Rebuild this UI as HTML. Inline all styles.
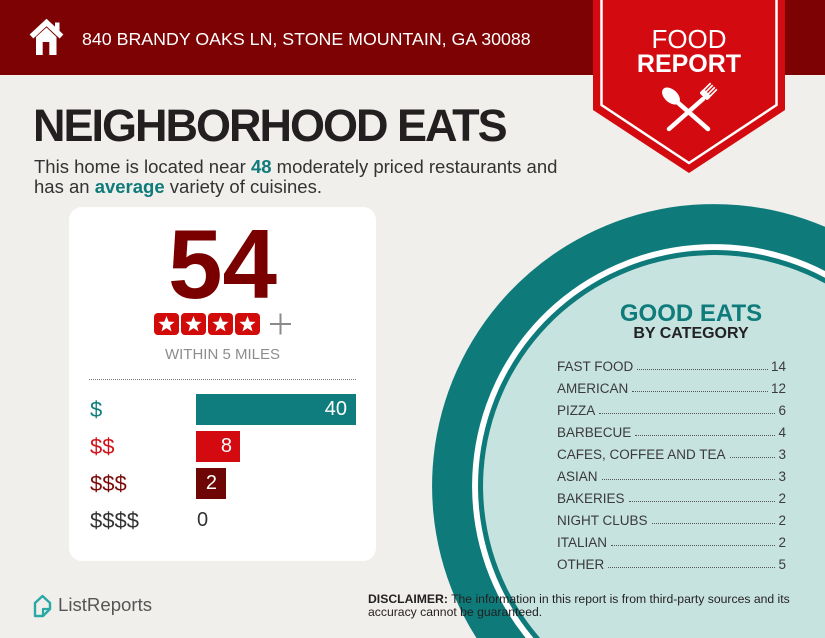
<!DOCTYPE html>
<html>
<head>
<meta charset="utf-8">
<style>
  html,body{margin:0;padding:0;width:825px;height:638px;overflow:hidden;}
  body{position:relative;background:#f1efec;font-family:"Liberation Sans",Arial,sans-serif;}
  .abs{position:absolute;}
  .header{left:0;top:0;width:825px;height:75px;background:#7c0203;}
  .addr{left:82px;top:31px;font-size:17.8px;line-height:1;color:#fff;white-space:nowrap;}
  .food{left:589px;width:200px;text-align:center;color:#fff;line-height:1;white-space:nowrap;}
  .title{left:33px;top:103px;font-size:45px;line-height:1;font-weight:bold;color:#231f20;letter-spacing:-2px;white-space:nowrap;}
  .sub{left:34px;top:157px;font-size:18.5px;line-height:19.5px;color:#333;white-space:nowrap;}
  .sub b{color:#0f7b7b;}
  .card{left:69px;top:207px;width:307px;height:354px;background:#fff;border-radius:13px;}
  .big{left:69px;width:307px;top:215px;text-align:center;font-size:98px;line-height:1;font-weight:bold;color:#7a0000;}
  .within{left:69px;width:307px;top:347px;text-align:center;font-size:15px;line-height:1;color:#8d8d8d;}
  .sep{left:89px;top:379px;width:267px;height:0;border-top:1px dotted #7a7a7a;}
  .lab{left:90px;font-size:22px;line-height:31px;height:31px;}
  .bar{left:196px;height:31px;line-height:31px;font-size:20px;color:#fff;text-align:right;box-sizing:border-box;}
  .goods{left:591px;width:200px;text-align:center;line-height:1;font-weight:bold;white-space:nowrap;}
  .list{left:557px;top:356px;width:229px;font-size:13.5px;color:#3a3a3a;}
  .row{display:flex;align-items:baseline;height:22px;line-height:22px;white-space:nowrap;}
  .row .f{flex:1;height:0;border-bottom:1px dotted #555;margin:0 3px 0 4px;position:relative;top:-1px;}
  .disc{left:368px;top:593px;font-size:12.2px;line-height:13px;color:#231f20;white-space:nowrap;}
  .logo{left:58px;top:596px;font-size:18.6px;line-height:1;color:#555;white-space:nowrap;}
</style>
</head>
<body>

<svg class="abs" style="left:0;top:0" width="825" height="638" viewBox="0 0 825 638">
  <path d="M825,226.8 A282,282 0 0 0 476.5,638 L825,638 Z" fill="#0e7a7a"/>
  <path d="M825,271 A242,242 0 0 0 525.7,638 L825,638 Z" fill="#ffffff"/>
  <path d="M825,277.7 A236,236 0 0 0 533.5,638 L825,638 Z" fill="#0e7a7a"/>
  <path d="M825,283.4 A231,231 0 0 0 540.1,638 L825,638 Z" fill="#c7e3e0"/>
</svg>

<div class="abs header"></div>

<svg class="abs" style="left:0;top:0" width="90" height="75" viewBox="0 0 90 75">
  <rect x="55" y="22.5" width="4.5" height="9" fill="#fff"/>
  <polyline points="31.5,36.5 46.5,22.5 61.5,36.5" fill="none" stroke="#fff" stroke-width="5.5" stroke-linejoin="miter"/>
  <polygon points="36,37 46.5,27.5 56.5,37 56.5,55 49.3,55 49.3,42 42.7,42 42.7,55 36,55" fill="#fff"/>
</svg>
<div class="abs addr">840 BRANDY OAKS LN, STONE MOUNTAIN, GA 30088</div>

<svg class="abs" style="left:0;top:0" width="825" height="200" viewBox="0 0 825 200">
  <polygon points="593,0 785,0 785,110 689,173 593,110" fill="#d30a0f"/>
  <polyline points="601.5,0 601.5,105 689,163 776.5,105 776.5,0" fill="none" stroke="#fff" stroke-width="2.5"/>
  <ellipse cx="671" cy="96" rx="6.5" ry="10.5" fill="#fff" transform="rotate(-48 671 96)"/>
  <line x1="676" y1="101" x2="708" y2="129" stroke="#fff" stroke-width="4.5" stroke-linecap="round"/>
  <line x1="703" y1="99" x2="669" y2="129" stroke="#fff" stroke-width="4.5" stroke-linecap="round"/>
  <g transform="translate(706 94) rotate(45)">
    <rect x="-5.5" y="-2" width="11" height="6" rx="2" fill="#fff"/>
    <line x1="-4.4" y1="-11" x2="-4.4" y2="0" stroke="#fff" stroke-width="1.7"/>
    <line x1="-1.5" y1="-11" x2="-1.5" y2="0" stroke="#fff" stroke-width="1.7"/>
    <line x1="1.5" y1="-11" x2="1.5" y2="0" stroke="#fff" stroke-width="1.7"/>
    <line x1="4.4" y1="-11" x2="4.4" y2="0" stroke="#fff" stroke-width="1.7"/>
  </g>
</svg>
<div class="abs food" style="top:25.6px;font-size:26px;">FOOD</div>
<div class="abs food" style="top:51.7px;font-size:25px;font-weight:bold;">REPORT</div>

<div class="abs title">NEIGHBORHOOD EATS</div>
<div class="abs sub">This home is located near <b>48</b> moderately priced restaurants and<br>has an <b>average</b> variety of cuisines.</div>

<div class="abs card"></div>
<div class="abs big">54</div>
<svg class="abs" style="left:150px;top:308px" width="150" height="32" viewBox="150 308 150 32">
  <g fill="#d10a0a">
    <rect x="154" y="313" width="25" height="22" rx="4"/>
    <rect x="181" y="313" width="25" height="22" rx="4"/>
    <rect x="208" y="313" width="25" height="22" rx="4"/>
    <rect x="235" y="313" width="25" height="22" rx="4"/>
  </g>
  <g fill="#fff">
    <polygon transform="translate(166.5 324.5)" points="0,-8.5 2.12,-2.91 8.08,-2.63 3.42,1.11 5,6.88 0,3.6 -5,6.88 -3.42,1.11 -8.08,-2.63 -2.12,-2.91"/>
    <polygon transform="translate(193.5 324.5)" points="0,-8.5 2.12,-2.91 8.08,-2.63 3.42,1.11 5,6.88 0,3.6 -5,6.88 -3.42,1.11 -8.08,-2.63 -2.12,-2.91"/>
    <polygon transform="translate(220.5 324.5)" points="0,-8.5 2.12,-2.91 8.08,-2.63 3.42,1.11 5,6.88 0,3.6 -5,6.88 -3.42,1.11 -8.08,-2.63 -2.12,-2.91"/>
    <polygon transform="translate(247.5 324.5)" points="0,-8.5 2.12,-2.91 8.08,-2.63 3.42,1.11 5,6.88 0,3.6 -5,6.88 -3.42,1.11 -8.08,-2.63 -2.12,-2.91"/>
  </g>
  <line x1="270" y1="324" x2="291" y2="324" stroke="#8a8a8a" stroke-width="2"/>
  <line x1="280.5" y1="313.5" x2="280.5" y2="334.5" stroke="#8a8a8a" stroke-width="2"/>
</svg>
<div class="abs within">WITHIN 5 MILES</div>
<div class="abs sep"></div>

<div class="abs lab" style="top:394px;color:#0f7d7d;">$</div>
<div class="abs lab" style="top:431px;color:#d0131a;">$$</div>
<div class="abs lab" style="top:468px;color:#7a0a0a;">$$$</div>
<div class="abs lab" style="top:505px;color:#333;">$$$$</div>

<div class="abs bar" style="top:394px;width:160px;background:#0f7d7d;padding-right:9px;">40</div>
<div class="abs bar" style="top:431px;width:44px;background:#d30a0f;padding-right:8px;">8</div>
<div class="abs bar" style="top:468px;width:30px;background:#6e0606;padding-right:9px;">2</div>
<div class="abs bar" style="top:505px;width:30px;color:#333;text-align:left;padding-left:1px;">0</div>

<div class="abs goods" style="top:302px;font-size:24px;color:#0f7b7b;">GOOD EATS</div>
<div class="abs goods" style="top:326px;font-size:16px;color:#222;">BY CATEGORY</div>
<div class="abs list">
  <div class="row"><span>FAST FOOD</span><span class="f"></span><span>14</span></div>
  <div class="row"><span>AMERICAN</span><span class="f"></span><span>12</span></div>
  <div class="row"><span>PIZZA</span><span class="f"></span><span>6</span></div>
  <div class="row"><span>BARBECUE</span><span class="f"></span><span>4</span></div>
  <div class="row"><span>CAFES, COFFEE AND TEA</span><span class="f"></span><span>3</span></div>
  <div class="row"><span>ASIAN</span><span class="f"></span><span>3</span></div>
  <div class="row"><span>BAKERIES</span><span class="f"></span><span>2</span></div>
  <div class="row"><span>NIGHT CLUBS</span><span class="f"></span><span>2</span></div>
  <div class="row"><span>ITALIAN</span><span class="f"></span><span>2</span></div>
  <div class="row"><span>OTHER</span><span class="f"></span><span>5</span></div>
</div>

<svg class="abs" style="left:28px;top:590px" width="30" height="32" viewBox="28 590 30 32">
  <path d="M35,603 L42.5,596 L50,603 L50,609 L43,616 L35,616 Z" fill="none" stroke="#2aa8a5" stroke-width="2.4" stroke-linejoin="round"/>
  <path d="M43,616 L43,609 L50,609" fill="none" stroke="#2aa8a5" stroke-width="2.2" stroke-linejoin="round"/>
</svg>
<div class="abs logo">ListReports</div>
<div class="abs disc"><b>DISCLAIMER:</b> The information in this report is from third-party sources and its<br>accuracy cannot be guaranteed.</div>

</body>
</html>
